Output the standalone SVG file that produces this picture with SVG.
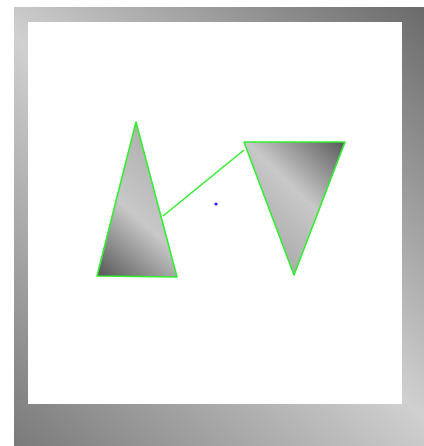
<svg xmlns="http://www.w3.org/2000/svg" width="424" height="446" viewBox="0 0 424 446">
  <defs>
    <linearGradient id="frameGrad" gradientUnits="userSpaceOnUse" x1="424" y1="7" x2="14" y2="446">
      <stop offset="0" stop-color="#6a6a6a"/>
      <stop offset="0.5" stop-color="#d0d0d0"/>
      <stop offset="1" stop-color="#7a7a7a"/>
    </linearGradient>
    <linearGradient id="triA" gradientUnits="userSpaceOnUse" x1="97" y1="277" x2="190" y2="170">
      <stop offset="0" stop-color="#555555"/>
      <stop offset="0.5" stop-color="#c8c8c8"/>
      <stop offset="1" stop-color="#b0b0b0"/>
    </linearGradient>
    <linearGradient id="triB" gradientUnits="userSpaceOnUse" x1="345" y1="142" x2="250" y2="240">
      <stop offset="0" stop-color="#5a5a5a"/>
      <stop offset="0.5" stop-color="#c8c8c8"/>
      <stop offset="1" stop-color="#aaaaaa"/>
    </linearGradient>
  </defs>
  <style>
    .tri { stroke: #33ee33; stroke-width: 1.6; stroke-linejoin: round; }
    .conn { stroke: #33ee33; stroke-width: 1.6; fill: none; }
  </style>
  <g id="frame">
    <rect x="14" y="7" width="410" height="439" fill="url(#frameGrad)"/>
    <rect x="28" y="22" width="374" height="382" fill="#ffffff"/>
  </g>
  <g id="connectors">
    <line class="conn" x1="163" y1="216" x2="244" y2="150"/>
  </g>
  <g id="triangle-left">
    <polygon class="tri" points="136,122 97,276 177,277" fill="url(#triA)"/>
  </g>
  <g id="triangle-right">
    <polygon class="tri" points="244,142 345,142 294,275" fill="url(#triB)"/>
  </g>
  <g id="center-dot">
    <circle cx="216" cy="204" r="1.6" fill="#2222ee"/>
  </g>
</svg>
